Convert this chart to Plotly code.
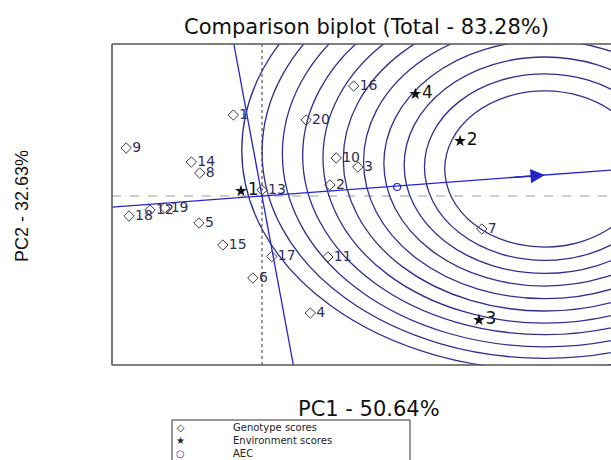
import plotly.graph_objects as go

# ---------------- data ----------------
genotype_labels = [str(i) for i in range(1, 21)]
genotype_x = [-0.41, 0.97, 1.37, 0.69, -0.90, -0.13, 3.14, -0.89, -1.94, 1.06,
              0.94, -1.60, 0.00, -1.01, -0.56, 1.31, 0.14, -1.90, -1.39, 0.63]
genotype_y = [1.62, 0.22, 0.58, -2.34, -0.54, -1.64, -0.66, 0.46, 0.96, 0.76,
              -1.22, -0.28, 0.12, 0.68, -0.98, 2.20, -1.21, -0.40, -0.24, 1.52]

env_labels = ["1", "2", "3", "4"]
env_x = [-0.30, 2.83, 3.10, 2.19]
env_y = [0.10, 1.10, -2.48, 2.04]

aec_x = [1.93]
aec_y = [0.18]

ideal_x = 4.04
ideal_y = 0.42
ordinate_slope = -7.55

# concentric rings around the ideal genotype
ring_center_x = 4.04
ring_center_y = [0.54, 0.578, 0.616, 0.654, 0.692, 0.73, 0.768, 0.806, 0.844, 0.882, 0.92]
ring_rx = [1.429, 1.719, 2.009, 2.299, 2.589, 2.879, 3.169, 3.459, 3.749, 4.039, 4.329]
ring_ry = [1.562, 1.866, 2.164, 2.456, 2.746, 3.03, 3.31, 3.578, 3.86, 4.128, 4.40]

title_text = "Comparison biplot (Total - 83.28%)"
x_title = "PC1 - 50.64%"
y_title = "PC2 - 32.63%"
legend_labels = ["Genotype scores", "Environment scores", "AEC"]
legend_symbols = ["\u25c7", "\u2605", "<span style='color:#2626c8'>\u25cb</span>"]

# ---------------- layout geometry ----------------
W, H = 611, 460
ML, MR, MT, MB = 112, 0, 44, 95
PW, PH = W - ML - MR, H - MT - MB
x_range = [-2.143, 4.986]
y_range = [-3.38, 3.04]


def px(xp):
    return (xp - ML) / PW


def py(yp):
    return (H - MB - yp) / PH


FONT = "DejaVu Sans, Arial, sans-serif"
RING = "#2f2f8f"
AEC_COL = "#2626c8"

fig = go.Figure()

# AEC abscissa (through origin and ideal point)
slope = ideal_y / ideal_x
fig.add_trace(go.Scatter(
    x=[x_range[0], x_range[1]],
    y=[slope * x_range[0], slope * x_range[1]],
    mode="lines", line=dict(color=AEC_COL, width=1.3),
    hoverinfo="skip", showlegend=False))

# AEC ordinate (through origin)
fig.add_trace(go.Scatter(
    x=[y_range[1] / ordinate_slope, y_range[0] / ordinate_slope],
    y=[y_range[1], y_range[0]],
    mode="lines", line=dict(color=AEC_COL, width=1.3),
    hoverinfo="skip", showlegend=False))

# genotypes
fig.add_trace(go.Scatter(
    x=genotype_x, y=genotype_y, text=genotype_labels,
    mode="markers+text", textposition="middle right",
    marker=dict(symbol="diamond-open", size=8, color="#3a3a4a",
                line=dict(width=1)),
    textfont=dict(family=FONT, size=14, color="#2d2d55"),
    showlegend=False))

# environments
fig.add_trace(go.Scatter(
    x=env_x, y=env_y, text=env_labels,
    mode="markers+text", textposition="middle right",
    marker=dict(symbol="star", size=9, color="#111111"),
    textfont=dict(family=FONT, size=17, color="#111111"),
    showlegend=False))

# AEC point
fig.add_trace(go.Scatter(
    x=aec_x, y=aec_y, mode="markers",
    marker=dict(symbol="circle-open", size=7, color=AEC_COL, line=dict(width=1.2)),
    showlegend=False))

shapes = []
for cy, rx, ry in zip(ring_center_y, ring_rx, ring_ry):
    shapes.append(dict(type="circle", xref="x", yref="y", layer="below",
                       x0=ring_center_x - rx, x1=ring_center_x + rx,
                       y0=cy - ry, y1=cy + ry,
                       line=dict(color=RING, width=1.3)))

# reference axes through origin
shapes.append(dict(type="line", xref="x", yref="paper", x0=0, x1=0, y0=0, y1=1,
                   layer="below", line=dict(color="#666666", width=1.3, dash="dot")))
shapes.append(dict(type="line", xref="paper", yref="y", x0=0, x1=1, y0=0, y1=0,
                   layer="below", line=dict(color="#9a9a9a", width=1, dash="dash")))

# plot frame (left, top, bottom)
frame = dict(color="#555555", width=1.6)
shapes.append(dict(type="line", xref="paper", yref="paper", x0=0, x1=0, y0=0, y1=1, line=frame))
shapes.append(dict(type="line", xref="paper", yref="paper", x0=0, x1=1, y0=1, y1=1, line=frame))
shapes.append(dict(type="line", xref="paper", yref="paper", x0=0, x1=1, y0=0, y1=0, line=frame))

# legend box
lb = dict(color="#333333", width=1)
shapes.append(dict(type="rect", xref="paper", yref="paper",
                   x0=px(172), x1=px(410), y0=py(475), y1=py(420), line=lb))

annotations = [
    dict(x=ideal_x, y=ideal_y, ax=ideal_x - 0.45, ay=ideal_y - 0.45 * slope,
         xref="x", yref="y", axref="x", ayref="y", text="", showarrow=True,
         arrowhead=2, arrowsize=2.2, arrowwidth=1.3, arrowcolor=AEC_COL),
    dict(x=px(366), y=py(27), xref="paper", yref="paper", text=title_text,
         xanchor="center", yanchor="middle",
         showarrow=False, font=dict(family=FONT, size=21, color="#111111")),
    dict(x=px(369), y=py(409), xref="paper", yref="paper", text=x_title,
         xanchor="center", yanchor="middle",
         showarrow=False, font=dict(family=FONT, size=21, color="#111111")),
    dict(x=px(22), y=py(206), xref="paper", yref="paper", text=y_title,
         textangle=-90, showarrow=False, xanchor="center", yanchor="middle",
         font=dict(family="Liberation Sans, Arial, sans-serif", size=18, color="#111111")),
    # legend: symbol column and label column
    dict(x=px(180), y=py(421), xref="paper", yref="paper",
         text="<br>".join(legend_symbols), showarrow=False,
         xanchor="center", yanchor="top", align="center", borderpad=0,
         font=dict(family=FONT, size=10, color="#222233")),
    dict(x=px(232), y=py(421), xref="paper", yref="paper",
         text="<br>".join(legend_labels), showarrow=False,
         xanchor="left", yanchor="top", align="left", borderpad=0,
         font=dict(family=FONT, size=10, color="#222222")),
]

fig.update_layout(
    width=W, height=H,
    margin=dict(l=ML, r=MR, t=MT, b=MB, pad=0),
    paper_bgcolor="white", plot_bgcolor="white",
    xaxis=dict(range=x_range, showgrid=False, zeroline=False,
               showticklabels=False, ticks="", showline=False, fixedrange=True),
    yaxis=dict(range=y_range, showgrid=False, zeroline=False,
               showticklabels=False, ticks="", showline=False, fixedrange=True),
    shapes=shapes, annotations=annotations, showlegend=False,
)

fig.write_html(
    "out.html",
    config={"displayModeBar": False},
    post_script="document.body.style.margin='0px';document.body.style.overflow='hidden';",
)
